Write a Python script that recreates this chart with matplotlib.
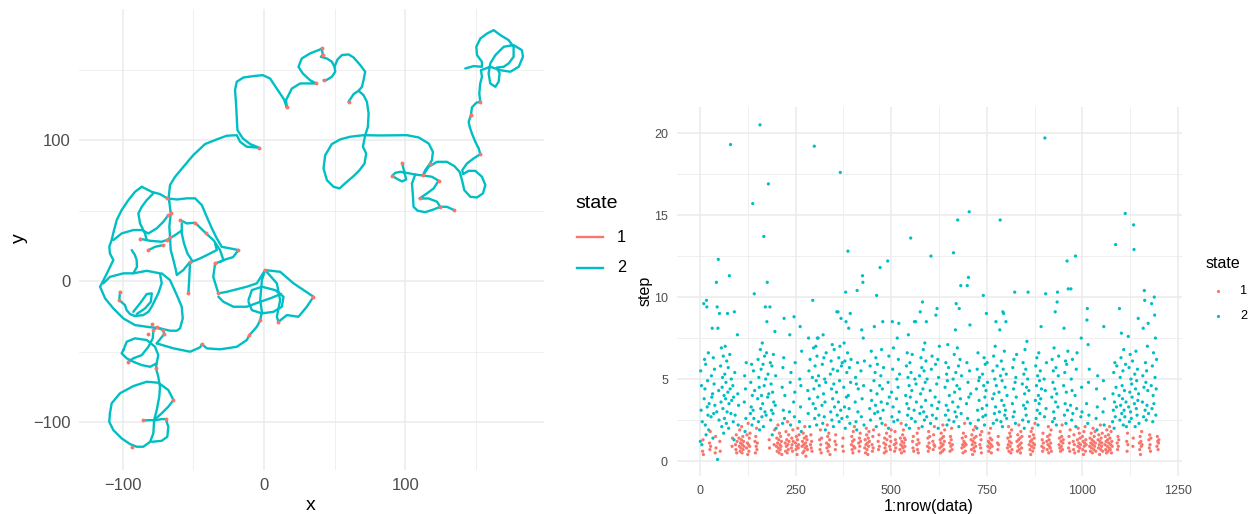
import numpy as np
import matplotlib.pyplot as plt
from matplotlib.lines import Line2D

RED = '#F8766D'
TEAL = '#00BFC4'
GRID = '#EBEBEB'
plt.rcParams['font.family'] = ['Liberation Sans', 'DejaVu Sans']

# ---------------- left panel: the track (x, y) ----------------
# traced as separate strokes of the one path (state 2 parts)
track = [
    [(-67.1, 56.2), (-67.5, 59.8), (-66.6, 68.1), (-63, 74), (-57.1, 81.1), (-50.1, 89.4), (-41.8, 97.2),
     (-33.5, 100.5), (-26.5, 103.1), (-19.4, 103.5), (-17, 98.8), (-12.3, 95.3), (-3.6, 94.6), (-9.9, 97.2),
     (-15.1, 101.2), (-18.9, 107.1), (-19.4, 116.5), (-19.9, 126), (-20.6, 135.5), (-19.4, 141.4),
     (-14.7, 144.4), (-7.6, 145.4), (-1, 146.1), (4.2, 143.7), (8.9, 136.6), (14.1, 128.8), (16, 123.2),
     (15.5, 128.4), (19.6, 136.6), (25.5, 140.2), (36.8, 140.2), (32.5, 142.5), (27.3, 147.3), (24.3, 152),
     (26.6, 157.9), (32.5, 161.5), (39.6, 164.3), (40.8, 165), (41.5, 160.3), (40.1, 159.1), (44.4, 157.9),
     (47.9, 155.6), (49.8, 152), (51.9, 157.2), (55, 160.3), (59.7, 160.8), (63.3, 158.6), (68, 153.2),
     (71.5, 148.5), (70.3, 142.5), (69.2, 137.8), (66.8, 135), (63.3, 132.6), (59.7, 127.2)],
    [(66.8, 135), (70.3, 131.9), (72.7, 127.2), (73.9, 118.9), (73.4, 109.4), (71.5, 103.5), (69.9, 95.3),
     (72.2, 90.5), (71, 83.4), (67.5, 78.7), (63.3, 74.5), (58.5, 70.4), (53.3, 65.7), (49.1, 66.9),
     (44.4, 71.6), (42, 79.9), (43.2, 89.3), (47.9, 97.2), (53.8, 100.5), (60.9, 102.4), (70.3, 103.5),
     (82.1, 103.3), (101, 103.5), (109.3, 101.9), (116.4, 97.6), (119.4, 91.7), (118.7, 85.8), (117.1, 83),
     (114, 78.7), (112.3, 74.9), (106.9, 75.6), (100.5, 76.8), (96.3, 77.5), (92.8, 76.8), (90.6, 74.7),
     (93.9, 72.6), (97.5, 70.7), (100.5, 72.1), (99.1, 77.5), (97.7, 83.5)],
    [(49.8, 152), (50.3, 148.5), (47.9, 144.9), (43.9, 142.5), (42, 142.5)],
    [(112.3, 74.9), (118.7, 74), (123.4, 71.2), (119.9, 65.7), (115.2, 62.2), (110, 58.6), (116.4, 58.6),
     (122.3, 56.3), (124.6, 52.7), (129.3, 52.7), (134.5, 50.3)],
    [(106.9, 75.6), (104.6, 69.3), (105.3, 59.8), (105.7, 52.7), (108.6, 49.9), (114, 48.9), (119.9, 50.8),
     (124.6, 52.7)],
    [(112.3, 74.9), (116.4, 81.1), (122.3, 84.6), (129.3, 84.6), (134.5, 81.6), (138.3, 77.5), (140, 71.6),
     (141.6, 64.5), (145.9, 59.8), (150.6, 59.3), (154.8, 62.2), (156.5, 68.1), (154.1, 74), (149.4, 78.2),
     (144.7, 78.2), (140.7, 75.9), (140.2, 78.7), (143.5, 83.4), (148.2, 87), (152.9, 90), (151.8, 94.1),
     (149.4, 98.8), (147, 104.7), (145.4, 109.5), (144.7, 113), (146.3, 117.7), (147, 123.2), (150.1, 126.5),
     (152.9, 127.2), (152.2, 133.1), (152.9, 140.2), (154.1, 144.9), (153.4, 149.6), (160, 152),
     (167.1, 149.6), (174.2, 148.5), (180.1, 152), (183.1, 159.1), (182.4, 163.8), (176.5, 167.4),
     (169.5, 166.2), (163.6, 160.3), (160, 154.4), (158.8, 147.3), (160, 140.2), (163.6, 137.8),
     (165.9, 141.4), (166.6, 147.3), (164.7, 151.5), (169.5, 152), (173, 154.4), (176.5, 159.1),
     (176.5, 166.2), (173, 170.9), (167.1, 174.5), (162.4, 178), (157.7, 175.6), (153, 172.1), (150.1, 166.2),
     (150.6, 160.3), (154.1, 155.5), (154.1, 152), (148.2, 152.5), (142.3, 150.8)],
    # tangle on the left
    [(-86.6, 66.9), (-91.4, 63.3), (-96.1, 57.4), (-100.8, 50.4), (-104.3, 43.3), (-106.2, 36.2),
     (-107.9, 29.1), (-109.6, 24.3), (-109.1, 19.6), (-106.7, 14.9), (-110.5, 7), (-114, 0), (-116.1, -4),
     (-112.5, -12.3), (-106.7, -19.4), (-99.6, -26.5), (-91.4, -31.2), (-83.1, -32.4), (-73.7, -33.5),
     (-66.6, -35.2), (-61.8, -35.2), (-59.5, -33.5), (-57.6, -26.5), (-58.3, -18.2), (-61.8, -9.9),
     (-66.6, 0.7), (-72.5, 5.5)],
    [(-113.8, -1.6), (-109.1, 3), (-99.6, 5.5), (-92.6, 5.5), (-83.1, 7.3), (-73.7, 5.5), (-72.5, -1.6),
     (-74.9, -8.7), (-79.6, -18.2), (-81.9, -21.8), (-85.5, -24.1), (-91.4, -24.8), (-94.9, -23.4),
     (-97.3, -20.6), (-98.5, -17), (-102.5, -13.5), (-102, -7.6)],
    [(-92.6, -21.8), (-87.8, -15.8), (-83.1, -9.2), (-79.5, -8.7), (-80.2, -14.7), (-84.3, -19.4),
     (-90.2, -23.4)],
    [(-86.6, 66.9), (-79.5, 63.3), (-73.7, 61.7), (-68.5, 58.7), (-61.8, 57.9), (-54.7, 58.7), (-48.9, 58.7),
     (-44.1, 53.9), (-40.6, 45.6), (-37, 37.4), (-33.5, 30.3), (-30, 24.3), (-24.1, 23.2), (-18.2, 22),
     (-22, 17), (-27, 15.5), (-31.2, 13.7), (-34.7, 12.6), (-36, 3), (-32.4, -8.7)],
    [(-78.4, 62.2), (-83.1, 57.4), (-86.6, 52.7), (-89, 48), (-87.8, 40.9), (-84.3, 33.8), (-83.1, 29.1)],
    [(-106.7, 29.1), (-100.8, 33.8), (-92.6, 36.2), (-86.6, 36.2), (-81.9, 33.8), (-76, 37.4), (-71.3, 42.1),
     (-67.8, 46.8)],
    [(-67.1, 56.2), (-66.1, 48), (-67.1, 38.5), (-66.6, 31.4), (-66.1, 22), (-64.2, 14.9), (-62.5, 8),
     (-61.8, 4.3), (-57.2, 7.8), (-52.4, 13.7), (-53, 2), (-53.6, -8.7)],
    [(-59.5, 43.3), (-54.7, 40.9), (-48.9, 41.4), (-41.1, 33.8), (-35.9, 29.1), (-31.2, 22), (-28.8, 14.9),
     (-31.2, 13.7)],
    [(-58.3, 40.9), (-58.3, 33.8), (-56.7, 26.7), (-54.3, 19.6), (-51.2, 14.9), (-51.2, 13.7), (-45.3, 16.1),
     (-40.6, 18.4), (-33.5, 22), (-34.7, 26.7)],
    [(-87.8, 30), (-80.7, 28.6), (-72.5, 27.9), (-68.9, 29.1), (-63, 32.6), (-59.5, 35), (-58.3, 36)],
    [(-81.9, 22), (-77.2, 24.3), (-71.7, 25.5)],
    [(-93.7, 22), (-91.4, 18.4), (-90.2, 14.9), (-90, 10), (-92.6, 5.5)],
    [(-99.6, -48.9), (-97.2, -43), (-91.4, -40.6), (-83.1, -41.8), (-77.2, -46.6), (-74.9, -52.5),
     (-76.1, -58.4), (-80.7, -60.8), (-86.6, -59.6), (-92.6, -57.2), (-97.2, -54.8), (-100.8, -51.3),
     (-99.6, -48.9)],
    [(-96.1, -57.2), (-92.6, -54.8), (-86.6, -52.5), (-81.9, -46.6), (-78.8, -40.6), (-78.4, -34.8),
     (-76, -32.8), (-71.3, -34.8), (-70.8, -37.6), (-76, -44.2)],
    [(-76, -44.2), (-64.2, -47.7), (-52.4, -50.1), (-45.3, -47), (-44.1, -44.7), (-40.6, -47.7),
     (-31.2, -48.4), (-19.3, -46.6), (-12.3, -41.8), (-10.4, -38.3), (-5.2, -32.4), (-2.8, -27.9)],
    [(-76.1, -58.4), (-76.5, -61.9), (-74.9, -67.9), (-73.7, -75), (-74.2, -82), (-76, -91.5),
     (-77.9, -98.6)],
    [(-109.1, -93.8), (-107.9, -86.7), (-102, -79.6), (-92.6, -74.5), (-83.1, -71.4), (-74.9, -72.1),
     (-67.8, -77.3), (-64.2, -84.4), (-67.8, -89.1), (-72.5, -93.8), (-77.9, -98.6), (-77.9, -99.8),
     (-78.4, -108), (-80.7, -114), (-85.5, -117.5), (-90.2, -117.5), (-94.9, -115.6), (-100.8, -111.6),
     (-106.7, -105.7), (-109.6, -99.8), (-109.1, -93.8)],
    [(-85.5, -98.8), (-79.5, -98.6), (-77.9, -98.8), (-72.5, -97.9), (-69.6, -97.9), (-67.8, -103.3),
     (-68.5, -110.4), (-72.5, -113.3), (-79.5, -114)],
    # cluster near the origin
    [(-32.4, -8.7), (-26.4, -7.6), (-12.3, -4), (-5.2, -1.6), (0.7, 7.8), (11.3, 6.6), (20.8, -1.6),
     (34.9, -11.1), (30.2, -18.2), (24.3, -25.3), (16.1, -24.1), (10.1, -28.9)],
    [(-11.1, -13.5), (-8.7, -6.4), (-1.6, -4), (7.8, -6.4), (13.7, -11.1), (12.5, -18.2), (6.6, -21.8),
     (-1.6, -22.9), (-8.7, -20.6), (-11.1, -14.7)],
    [(-32.4, -11.1), (-28.8, -14.7), (-21.7, -18.2), (-12.3, -18.2), (-2.8, -14.7), (5, -12), (12, -9)],
    [(0.7, 7.8), (-1.6, 0.7), (-2.8, -13.5), (-1.6, -21.8), (-2.8, -27.9)],
    [(0.7, 7.8), (9, -1.6), (11.3, -13.5), (9, -25.3), (10.1, -28.9)],
]

# short state-1 bouts along the track
rest_xy = np.array([
    (40.8, 165), (41.5, 160.3), (36.8, 140.2), (16, 123.2), (-3.6, 94.6), (42, 142.5), (59.7, 127.2),
    (117.1, 83), (112.3, 74.9), (90.6, 74.7), (97.7, 83.5), (123.4, 71.2), (110, 58.6), (124.6, 52.7),
    (134.5, 50.3), (152.9, 90), (146.3, 117.7), (152.9, 127.2), (-68.5, 58.7), (-66.1, 48), (-67.8, 46.8),
    (-66.6, 31.4), (-59.5, 43.3), (-48.9, 41.4), (-41.1, 33.8), (-18.2, 22), (-87.8, 30), (-68.9, 29.1),
    (-81.9, 22), (-71.7, 25.5), (-102, -7.6), (-102.5, -13.5), (-52.4, 13.7), (-53.6, -8.7), (-34.7, 12.6),
    (-96.1, -57.2), (-78.4, -34.8), (-44.1, -44.7), (-10.4, -38.3), (-2.8, -27.9), (-79.5, -30.5),
    (-76, -32.8), (-71.3, -34.8), (-70.8, -37.6), (-81.9, -37.8), (-32.4, -8.7), (0.7, 7.8), (34.9, -11.1),
    (10.1, -28.9), (-76.5, -61.9), (-64.2, -84.4), (-85.5, -98.8), (-69.6, -97.9), (-93.7, -117.5),
])

# ---------------- right panel: step length per row ----------------
# consecutive runs of one state; runs alternate state 2, 1, 2, 1, ...
step_runs = [
    [1.2, 5.5, 3.1, 4.6, 1.0, 2.4], [0.6, 1.3, 0.4],
    [9.6, 3.8, 6.2, 4.4, 2.2, 5.9, 1.6, 9.8, 9.4, 3.3, 4.9, 2.8, 6.6, 1.9, 3.5], [1.1, 0.7, 1.8, 0.9],
    [2.7, 5.2, 3.9, 8.1, 4.1, 1.4, 6.3, 2.9, 4.7, 5.6, 3.4], [0.5, 1.5, 0.8],
    [10.9, 3.0, 9.4, 0.1, 8.1, 12.3, 4.3, 2.5, 9.0], [1.2, 0.6],
    [5.8, 3.6, 6.9, 2.1, 4.5, 5.1, 3.2, 6.4, 1.7, 4.0, 2.6, 5.3, 7.0, 3.8, 4.8, 2.3, 6.1, 3.0,
     9.0, 4.2, 5.7, 2.0, 3.5, 11.3, 6.5, 4.4, 19.3, 2.9, 5.0, 3.7], [0.9, 1.4],
    [4.6, 2.4, 3.9, 1.3, 9.1, 5.4, 2.8], [1.0, 0.7, 1.6, 0.5, 1.2],
    [7.7, 4.1, 2.2, 3.4], [1.4, 0.9, 1.9, 0.6, 1.1, 0.8, 1.3, 2.1, 0.5, 1.0, 1.5, 0.7, 1.2, 0.9],
    [3.6, 5.2, 1.8, 4.4, 2.6, 6.0], [0.8, 1.6, 1.1, 0.4, 2.3, 1.0, 0.6, 1.4, 0.9, 1.7],
    [2.9, 4.8, 3.3, 5.9, 2.2, 4.0, 15.7, 3.1, 5.5, 2.6, 10.2, 4.3], [1.2, 0.5, 1.5, 0.9, 2.0, 0.7, 1.1],
    [3.8, 6.2, 2.4, 5.1, 4.5, 1.9, 20.5, 6.8, 3.2, 5.6, 4.0, 2.7, 7.2, 3.5, 5.9, 2.1, 13.7, 4.6, 6.4, 3.0,
     9.4, 5.0, 2.8, 6.6, 8.5, 10.9, 3.9, 5.3, 16.9, 4.1], [1.3, 0.8],
    [9.4, 6.0, 2.5, 4.7, 3.1, 5.8, 1.6, 4.2, 2.9, 6.5, 3.6], [1.0, 1.9],
    [7.9, 3.4, 5.2, 2.0], [0.9, 1.4, 0.6, 1.1, 2.2, 0.8, 1.3, 0.5, 1.7, 1.0, 0.7, 1.5, 0.9, 1.2, 0.4],
    [4.5, 2.3, 5.7, 3.1, 6.3, 8.7, 2.6, 4.0], [1.1, 0.6, 1.8, 0.9, 1.3, 0.5, 2.4, 1.0, 0.7, 1.6, 1.2],
    [3.0, 7.7, 4.8, 2.2, 5.4], [0.8, 1.4, 1.0, 0.6, 1.9, 1.2],
    [3.6, 8.8, 2.7, 4.2, 6.0], [1.1, 0.7, 1.5, 0.9, 0.4, 1.3, 2.0, 0.8, 1.0, 1.6],
    [2.4, 5.0, 8.2, 3.3, 4.6, 1.8, 6.7], [0.9, 1.2, 0.5, 1.7, 1.0, 0.6, 1.4, 2.1, 0.8, 1.1, 0.3, 1.5, 0.9, 1.3, 0.7],
    [4.3, 2.9, 7.5, 5.5, 3.8, 2.1, 6.2], [1.0, 1.6, 0.8, 1.2, 0.6],
    [5.1, 9.8, 3.5, 6.9, 4.4, 19.2, 2.6, 5.8, 3.2, 7.0, 4.9, 2.2, 6.4, 7.5, 3.9, 7.5, 5.2, 2.8, 4.6],
    [1.3, 0.7, 1.9, 1.0, 0.5, 1.4],
    [3.4, 5.9, 2.3, 7.7, 4.1, 6.3, 2.7, 5.0, 3.6, 1.9, 4.8, 6.6], [1.1, 0.8, 2.2, 1.5, 0.6, 1.0, 1.7, 0.9, 1.3, 0.4],
    [5.3, 3.0, 6.1, 4.4, 2.5, 7.1, 3.8, 5.6, 2.1, 4.7, 6.8, 3.3], [1.2, 0.7, 1.6, 1.0],
    [4.2, 9.1, 2.8, 5.5, 9.1, 3.6, 6.3, 2.4, 4.9, 7.0, 17.6, 3.1, 8.7, 5.8, 2.6, 6.0], [0.9, 1.4, 0.6],
    [4.5, 7.2, 3.3, 6.1, 2.0, 10.3, 8.5, 3.9, 5.4, 2.7, 6.6, 12.8, 4.0, 8.1, 3.2, 5.7, 2.3, 9.0, 4.8, 6.2],
    [1.0, 1.5, 0.7, 1.2, 0.5, 1.8, 0.9, 1.3, 2.1, 0.8],
    [3.6, 5.1, 2.4, 4.7, 1.9, 10.4, 6.0, 3.0, 4.4], [1.1, 0.6, 1.4, 0.9, 1.7, 1.2],
    [5.5, 2.7, 8.0, 3.8, 11.3, 10.9, 7.5, 4.6, 2.2, 6.1], [0.8, 1.3, 0.5, 1.0, 2.0, 1.6, 0.7, 1.1, 0.4, 1.4, 0.9, 1.8, 1.2],
    [3.2, 5.8, 2.5, 4.3, 6.7, 3.7], [1.0, 0.6, 1.5, 0.8, 1.9],
    [4.9, 8.2, 2.9, 5.4, 3.4, 6.3, 2.1, 10.1, 4.1, 5.9, 3.0], [1.2, 0.7, 1.6, 0.9],
    [4.6, 11.8, 2.6, 5.2, 3.6, 6.8, 2.3, 4.4, 8.5, 3.1, 5.7], [1.1, 0.5, 1.4, 0.8, 2.2, 1.0, 0.6, 1.7, 1.3],
    [3.5, 12.2, 4.8, 2.0, 6.4, 3.9], [0.9, 1.5, 0.7, 1.2, 1.9],
    [4.2, 2.7, 8.5, 5.6, 3.3, 6.9, 2.4], [1.0, 0.6, 1.8, 1.3, 0.8, 1.1],
    [3.8, 5.0, 7.5, 2.5, 4.5, 6.2, 8.4, 3.0, 5.3], [0.7, 1.4, 1.0, 2.3, 0.5, 1.2, 0.9, 1.6, 0.8, 1.9, 1.1, 0.6, 1.4, 0.9, 1.3],
    [4.0, 2.2, 5.8, 3.5, 6.6, 2.8, 5.1, 7.7, 3.2, 4.6, 2.0, 6.0, 3.9, 13.6, 5.4, 2.6, 4.3, 6.5], [1.2, 0.8, 1.5, 0.6],
    [3.1, 8.5, 5.0, 2.4, 8.5, 4.7, 3.6], [1.0, 1.7, 0.7, 1.3, 0.5, 2.0, 1.1],
    [5.2, 2.9, 9.1, 4.1, 6.3, 3.3, 5.7, 2.1, 9.7, 4.4, 6.8, 3.0, 5.5, 2.5, 7.2, 4.8, 3.7, 6.1, 8.5, 2.7, 5.0],
    [0.9, 1.4, 0.6, 1.8, 1.1, 0.8, 1.5],
    [4.3, 2.3, 12.5, 5.6, 3.4, 6.4, 2.8], [1.2, 0.7, 1.6, 1.0, 2.1, 0.9],
    [3.9, 5.9, 8.9, 2.6, 4.7, 9.3, 3.2, 6.2, 2.0, 5.1, 3.6, 7.0], [0.8, 1.3, 0.5, 1.1, 1.7, 0.9, 1.4, 0.6, 2.2, 1.0, 1.5, 0.7, 1.2, 1.9],
    [4.5, 2.8, 6.0, 3.4, 5.3, 2.2, 4.9, 7.1, 3.1, 5.7, 2.5, 4.0], [1.1, 0.6, 1.5, 0.9, 1.3, 2.0, 0.7, 1.0],
    [3.6, 5.0, 12.7, 2.4, 6.5, 4.2, 3.0, 8.0, 5.4, 9.6, 2.7, 4.6, 6.9, 14.7, 3.3, 5.8, 2.1, 9.3, 4.4, 6.2, 3.8, 10.7, 2.9, 5.2],
    [0.8, 1.4, 1.0, 0.5, 1.7, 1.2, 0.9, 2.3, 1.1, 0.6, 1.5, 1.0],
    [3.5, 6.0, 10.7, 2.6, 4.8, 11.2, 3.9, 15.2, 5.5, 8.3, 2.3, 4.1], [1.3, 0.7, 1.6, 1.0, 0.4, 1.2, 1.9, 0.8, 1.4, 0.6, 1.1, 2.1, 0.9, 1.5],
    [4.4, 2.0, 5.6, 3.1, 6.6, 2.5, 4.9, 3.7, 5.1], [1.0, 1.6, 0.8, 1.3, 0.5, 1.8],
    [3.2, 5.3, 2.7, 10.1, 4.6, 6.3, 2.2, 3.9, 5.9, 2.8, 4.3, 9.0, 3.4, 6.0, 4.8], [0.9, 1.2, 0.6, 1.7, 1.1, 0.8, 1.4, 2.0, 1.0, 0.5, 1.3, 0.9],
    [3.8, 5.5, 2.3, 6.4, 4.1, 2.9, 5.0, 7.0, 3.3, 8.5, 4.6, 2.5, 5.8], [1.1, 0.7, 1.5, 1.0],
    [4.2, 3.0, 8.0, 14.7, 5.2, 2.4, 6.1, 3.7, 4.9, 2.1, 9.1, 5.6, 9.0, 3.4, 6.7, 2.8, 4.5, 3.1, 8.5, 5.3, 2.6, 4.0],
    [0.8, 1.4, 1.0, 2.1, 0.6, 1.2, 1.7, 0.9, 1.5, 0.5, 1.1, 1.9, 0.7],
    [3.5, 5.7, 2.7, 4.4, 6.2, 3.0, 10.3, 4.8, 2.3, 5.1, 3.9, 6.5], [1.2, 0.6, 1.6, 0.9, 1.3, 2.2, 0.7, 1.0, 1.4, 0.5, 1.8, 1.1, 0.8, 1.5],
    [4.7, 2.5, 6.0, 3.4, 5.3, 2.0, 4.1, 6.8, 3.2, 5.6, 2.8, 4.5, 7.3, 3.6, 5.0, 10.3, 2.4, 4.3],
    [1.0, 1.5, 0.7, 1.2, 0.4, 1.8, 0.9, 1.3, 2.0, 0.6, 1.1, 1.6, 0.8, 1.4, 1.0, 2.3],
    [3.7, 5.8, 2.6, 4.6, 6.3, 3.1, 5.2, 2.2, 4.0, 6.6, 3.5, 4.9, 2.9, 5.5, 3.8, 8.2, 4.4], [0.9, 1.3, 0.6, 1.7, 1.1, 0.8],
    [5.0, 2.7, 19.7, 4.3, 10.2, 3.2, 6.0], [1.2, 0.7, 1.5, 1.0, 2.1, 0.5, 1.3, 0.9, 1.6, 0.8, 1.1, 1.9, 0.6],
    [3.9, 6.2, 2.4, 4.8, 5.5, 3.0, 6.9, 2.6, 4.4, 9.1, 3.6, 5.7, 2.2, 4.1, 9.7, 10.3, 3.3, 5.2, 6.4],
    [1.0, 1.4, 0.8, 1.8, 0.6, 1.2, 0.9, 1.5, 2.2, 0.7, 1.1, 1.3],
    [4.6, 8.1, 2.8, 5.4, 3.5, 6.1, 2.3, 4.2, 5.9, 12.2, 3.1, 6.7, 10.5], [0.8, 1.5, 1.1, 0.6, 1.9],
    [3.4, 10.5, 5.0, 2.5, 4.3, 6.2, 2.9], [1.2, 0.7, 1.6, 1.0, 0.5],
    [4.0, 12.5, 2.1, 5.6, 3.2, 6.6], [1.3, 0.9, 2.0, 0.6, 1.1, 1.7, 0.8, 1.4, 1.0],
    [2.7, 7.5, 4.5, 3.0], [1.5, 0.7, 1.2, 0.4, 1.8, 0.9, 1.1, 2.1, 0.6, 1.3, 1.0],
    [3.5, 8.6, 9.3, 2.3, 7.1, 4.8, 2.8, 5.6], [0.9, 1.4, 0.6, 1.1, 1.7, 0.8, 1.3, 0.5, 1.0, 2.0, 1.2, 0.7, 1.5, 0.9, 1.8, 1.1, 0.6],
    [2.6, 4.4, 1.9, 3.3, 5.2], [1.3, 0.8, 1.6, 1.0, 0.4, 1.2, 2.2, 0.7, 1.4, 0.9, 1.1, 1.7, 0.6],
    [3.0, 4.9, 8.2, 2.2, 3.8], [1.0, 1.5, 0.7, 1.2, 0.5, 1.9, 0.9, 1.3, 0.6, 1.6, 1.1, 0.8, 2.1, 1.4, 0.7, 1.0, 1.8, 0.5, 1.2, 0.9],
    [2.4, 4.1, 3.1, 5.4, 2.0, 3.6, 6.0, 2.7, 13.2, 4.5, 3.3, 5.8], [1.1, 0.7, 1.5, 0.9, 1.3],
    [4.0, 9.3, 2.5, 5.1, 3.4, 6.3, 7.8, 2.9, 4.6, 3.8, 5.5, 2.2, 6.8, 3.1, 4.3, 2.7, 15.1, 5.9, 3.6, 2.1],
    [1.2, 0.6, 1.7, 1.0],
    [7.6, 3.3, 5.7, 2.4, 4.2, 6.5, 3.0, 5.0, 2.6, 4.7, 3.9, 6.1], [0.9, 1.4],
    [14.4, 12.9, 3.5, 5.3, 2.1, 4.4, 6.7, 3.2, 4.9, 2.8, 5.6, 3.7, 8.7, 4.1, 2.3], [1.1, 0.7, 1.5, 0.4, 1.2, 0.9, 1.8, 1.0],
    [3.6, 5.2, 8.1, 2.7, 4.5, 10.4, 9.8, 3.1, 6.0, 4.8, 2.5, 5.5, 3.4, 7.0, 4.3, 8.4, 2.9], [1.3, 0.8, 1.6, 1.0, 0.6, 1.4],
    [4.6, 9.6, 3.2, 5.8, 2.4, 4.0, 6.6, 3.5, 10.0, 8.9, 5.1, 7.5, 2.8, 4.4, 6.2], [0.9, 1.5, 1.2, 0.7, 1.1, 1.3],
]

step, state = [], []
for k, run in enumerate(step_runs):
    step += run
    state += [2 if k % 2 == 0 else 1] * len(run)
step = np.array(step)
state = np.array(state)
row = np.arange(1, len(step) + 1)

# ---------------- figure ----------------
W, H = 1252, 514
fig = plt.figure(figsize=(W / 100, H / 100), dpi=100)


def box(x0, y0, x1, y1):
    return [x0 / W, 1 - y1 / H, (x1 - x0) / W, (y1 - y0) / H]


def minimal(ax, size, pad):
    for s in ax.spines.values():
        s.set_visible(False)
    ax.grid(True, which='major', color=GRID, lw=1.1)
    ax.grid(True, which='minor', color=GRID, lw=0.55)
    ax.set_axisbelow(True)
    ax.tick_params(which='both', length=0, labelsize=size, labelcolor='#4D4D4D', pad=pad)


# left: track
ax1 = fig.add_axes(box(79, 9, 544, 470))
minimal(ax1, 12, 5.8)
for stroke in track:
    xy = np.array(stroke)
    ax1.plot(xy[:, 0], xy[:, 1], color=TEAL, lw=1.7, solid_capstyle='round', solid_joinstyle='round')
ax1.plot(rest_xy[:, 0], rest_xy[:, 1], 'o', ms=2.8, color=RED, mec='none')
ax1.set_xlim(-131, 198)
ax1.set_ylim(-134, 193)
ax1.set_xticks([-100, 0, 100])
ax1.set_xticks([-50, 50, 150], minor=True)
ax1.set_yticks([-100, 0, 100])
ax1.set_yticks([-50, 50, 150], minor=True)

fig.text(311 / W, 1 - 506 / H, 'x', fontsize=14, ha='center', va='center')
fig.text(19 / W, 1 - 238 / H, 'y', fontsize=14, ha='center', va='center', rotation=90)

fig.text(575 / W, 1 - 204 / H, 'state', fontsize=14, ha='left', va='center')
for yy, col, lab in [(237, RED, '1'), (268, TEAL, '2')]:
    fig.add_artist(Line2D([577 / W, 603 / W], [1 - yy / H] * 2, color=col, lw=1.7))
    fig.text(617 / W, 1 - yy / H, lab, fontsize=11.7, ha='left', va='center')

# right: step vs row
ax2 = fig.add_axes(box(677, 107, 1182, 476))
minimal(ax2, 9, 6.5)
ax2.scatter(row, step, s=5.5, c=np.where(state == 1, RED, TEAL), linewidths=0)
ax2.set_xlim(-60, 1260.5)
ax2.set_ylim(-0.91, 21.59)
ax2.set_xticks([0, 250, 500, 750, 1000, 1250])
ax2.set_xticks([125, 375, 625, 875, 1125], minor=True)
ax2.set_yticks([0, 5, 10, 15, 20])
ax2.set_yticks([2.5, 7.5, 12.5, 17.5], minor=True)

fig.text(929 / W, 1 - 506 / H, '1:nrow(data)', fontsize=11.5, ha='center', va='center')
fig.text(645 / W, 1 - 291 / H, 'step', fontsize=11.5, ha='center', va='center', rotation=90)

fig.text(1206 / W, 1 - 263 / H, 'state', fontsize=11.5, ha='left', va='center')
for yy, col, lab in [(290.5, RED, '1'), (316, TEAL, '2')]:
    fig.add_artist(Line2D([1218.3 / W], [1 - yy / H], marker='o', ms=2.3, color=col, mec='none', ls='none'))
    fig.text(1240 / W, 1 - yy / H, lab, fontsize=9.2, ha='left', va='center')

fig.savefig('out.png', dpi=100, facecolor='white')
